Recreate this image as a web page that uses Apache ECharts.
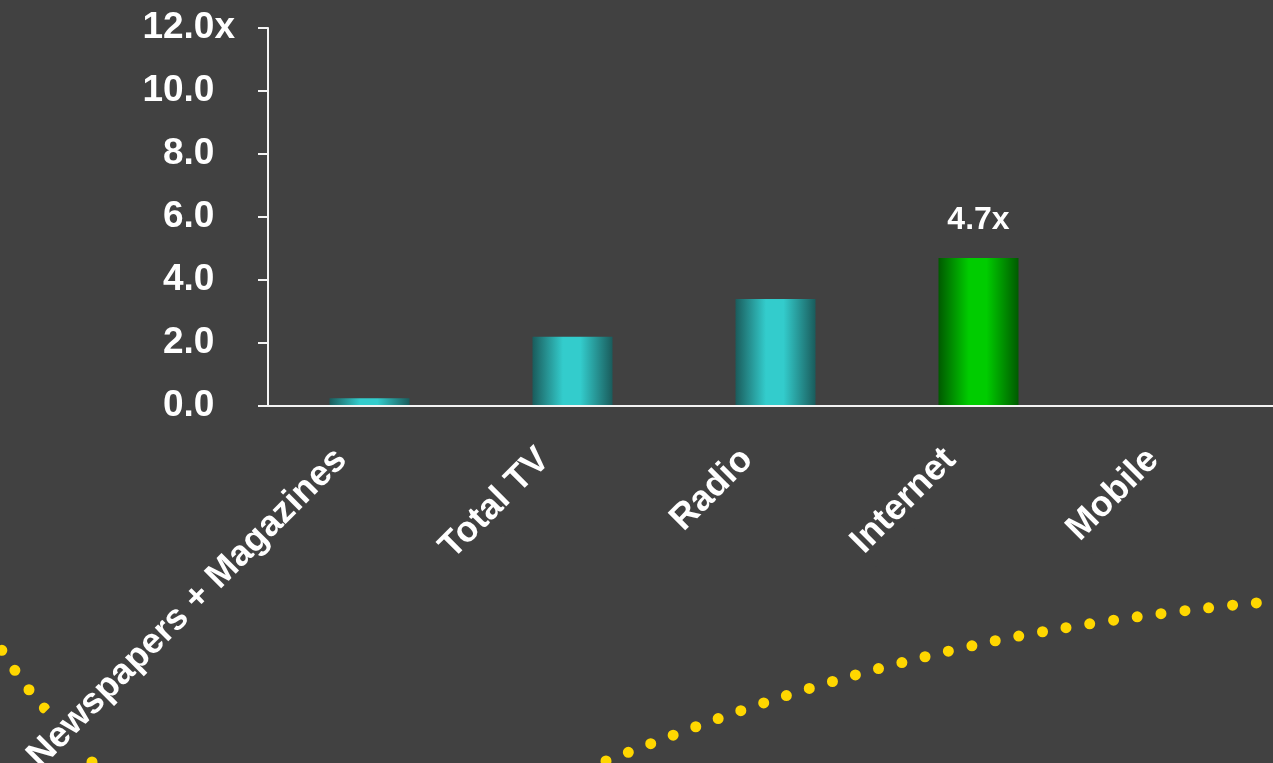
<!DOCTYPE html>
<html>
<head>
<meta charset="utf-8">
<script src="https://cdn.jsdelivr.net/npm/echarts@6/dist/echarts.min.js"></script>
<style>
  html, body { margin: 0; padding: 0; background: #414141; }
  #main { width: 1273px; height: 763px; }
</style>
</head>
<body>
<div id="main"></div>
<script>
// media categories and multiples
const categories = ['Newspapers + Magazines', 'Total TV', 'Radio', 'Internet', 'Mobile'];
const multiples = [0.25, 2.2, 3.4, 4.7, 0.02];
const highlightIndex = 3; // Internet, shown in green with a label
const yTicks = [0, 2, 4, 6, 8, 10, 12];

// decorative dotted curve in the slide background (pixel space)
const curveLeftX = [92, 60, 30, 16, 3, -10];
const curveLeftY = [762, 726, 691, 672, 652, 634];
const curveRightX = [606, 650, 717, 785, 855, 924, 994, 1064, 1136, 1207, 1255, 1290];
const curveRightY = [761, 744, 719, 696, 675, 657, 641, 628, 617, 608, 603, 601];

const bg = '#414141';
const font = 'Liberation Sans, Arial, sans-serif';

function cylinder(dark, light) {
  return new echarts.graphic.LinearGradient(0, 0, 1, 0, [
    { offset: 0, color: dark },
    { offset: 0.38, color: light },
    { offset: 0.6, color: light },
    { offset: 1, color: dark }
  ]);
}

let myChart = echarts.init(document.getElementById('main'));

let barData = multiples.map((v, i) => {
  if (i === highlightIndex) {
    return {
      value: v,
      itemStyle: { color: cylinder('#005a00', '#00cc00') },
      label: {
        show: true,
        position: 'top',
        distance: 22,
        formatter: p => p.value.toFixed(1) + 'x',
        color: '#ffffff',
        fontFamily: font,
        fontWeight: 'bold',
        fontSize: 32
      }
    };
  }
  return { value: v, itemStyle: { color: cylinder('#1a5c5c', '#33cccc') } };
});

let option = {
  backgroundColor: bg,
  animation: false,
  grid: [
    { left: 268, top: 28, bottom: 357, width: 1015, containLabel: false, outerBoundsMode: 'none' },
    { left: 0, top: 0, right: 0, bottom: 0, outerBoundsMode: 'none' }
  ],
  xAxis: [
    {
      type: 'category',
      gridIndex: 0,
      data: categories,
      z: 5,
      axisLine: { lineStyle: { color: '#f4f4f4', width: 2 } },
      axisTick: { length: 12, interval: 0, lineStyle: { color: '#f4f4f4', width: 2 } },
      axisLabel: {
        interval: 0,
        rotate: 45,
        margin: 20,
        color: '#ffffff',
        fontFamily: font,
        fontWeight: 'bold',
        fontSize: 36,
        backgroundColor: bg,
        padding: [9, 40, 9, 0]
      }
    },
    { type: 'value', gridIndex: 1, min: 0, max: 1273, show: false }
  ],
  yAxis: [
    {
      type: 'value',
      gridIndex: 0,
      min: 0,
      max: 12,
      interval: 2,
      splitLine: { show: false },
      axisLine: { show: true, lineStyle: { color: '#f4f4f4', width: 2 } },
      axisTick: { show: true, length: 10, lineStyle: { color: '#f4f4f4', width: 2 } },
      axisLabel: {
        margin: 33,
        color: '#ffffff',
        fontFamily: font,
        fontWeight: 'bold',
        fontSize: 37,
        formatter: v => v.toFixed(1) + (v === yTicks[yTicks.length - 1] ? '{x|x}' : '{h|x}'),
        rich: {
          x: { color: '#ffffff', fontFamily: font, fontWeight: 'bold', fontSize: 37 },
          h: { color: 'rgba(0,0,0,0)', fontFamily: font, fontWeight: 'bold', fontSize: 37 }
        }
      }
    },
    { type: 'value', gridIndex: 1, min: 0, max: 763, inverse: true, show: false }
  ],
  series: [
    {
      type: 'bar',
      xAxisIndex: 0,
      yAxisIndex: 0,
      barWidth: 80,
      z: 2,
      data: barData
    },
    {
      type: 'line',
      xAxisIndex: 1,
      yAxisIndex: 1,
      z: 1,
      smooth: 0.3,
      symbol: 'none',
      silent: true,
      lineStyle: { color: '#ffd700', width: 11, type: [0, 24], cap: 'round' },
      data: curveLeftX.map((x, i) => [x, curveLeftY[i]])
    },
    {
      type: 'line',
      xAxisIndex: 1,
      yAxisIndex: 1,
      z: 1,
      smooth: 0.3,
      symbol: 'none',
      silent: true,
      lineStyle: { color: '#ffd700', width: 11, type: [0, 24], cap: 'round' },
      data: curveRightX.map((x, i) => [x, curveRightY[i]])
    }
  ]
};

myChart.setOption(option);
</script>
</body>
</html>
